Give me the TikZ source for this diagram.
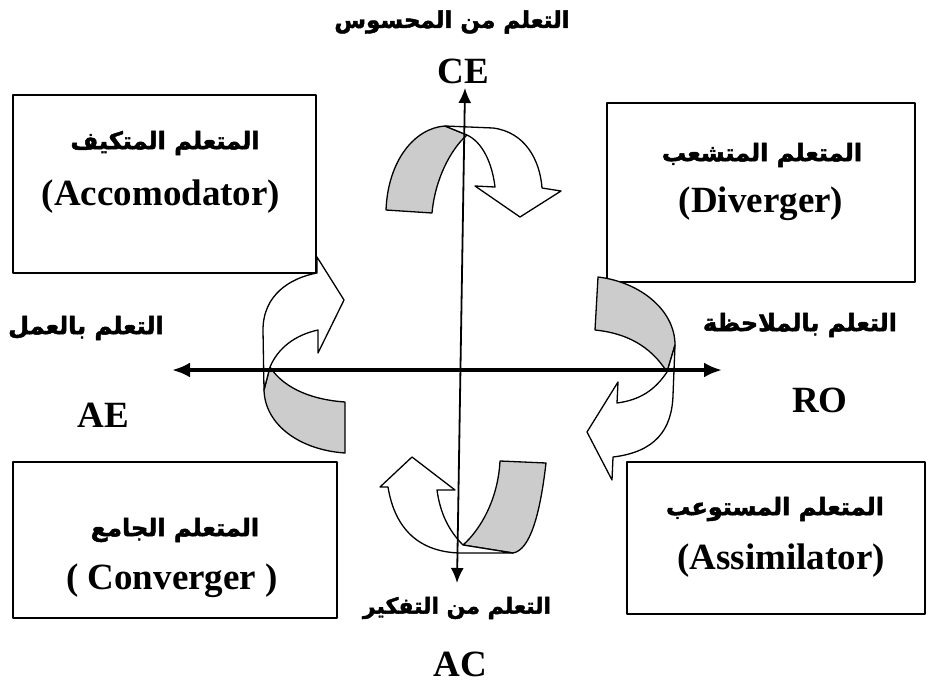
\documentclass[tikz,border=0pt]{standalone}
\usepackage{fontspec}
\setmainfont{Liberation Serif}
\newfontfamily\arabicfont[Script=Arabic,BoldFeatures={FakeBold=2}]{DejaVu Sans}
\TeXXeTstate=1
\usetikzlibrary{arrows.meta}
\definecolor{ribbongray}{RGB}{204,204,204}
\newcommand{\artext}[1]{{\arabicfont\bfseries\beginR #1\endR}}

\begin{document}
\begin{tikzpicture}[x=1pt,y=-1pt,>=Latex,line join=round,
  stylebox/.style={draw,line width=1.3pt,inner sep=0pt},
  latin/.style={font=\fontsize{37}{42}\selectfont\bfseries,inner sep=0pt},
  arabic/.style={font=\fontsize{24}{30}\selectfont,inner sep=0pt},
  ribbon/.style={draw,line width=1.3pt,fill=white},
  ribbonback/.style={draw,line width=1.3pt,fill=ribbongray}]
\useasboundingbox (0,0) rectangle (928,693);
% learner boxes
\node[stylebox,minimum width=303pt,minimum height=178pt] (accom) at (164.5,184) {};
\node[stylebox,minimum width=308pt,minimum height=179pt] (diverg) at (761,192.5) {};
\node[stylebox,minimum width=298pt,minimum height=152pt] (assim) at (776,538) {};
\node[stylebox,minimum width=324pt,minimum height=156pt] (conv) at (175,540) {};
% turning ribbons: top
\draw[ribbonback] (386,210) .. controls (388,160) and (415,128) .. (445,126) -- (467,135)
  .. controls (450,150) and (435,180) .. (432,213) -- cycle;
\draw[ribbon] (445,126) -- (493,128) .. controls (525,132) and (540,160) .. (542,188)
  -- (561,191) -- (520,217) -- (475,186) -- (495,187)
  .. controls (492,162) and (482,142) .. (467,135) -- cycle;
% left
\draw[ribbonback] (270,367) .. controls (285,390) and (315,400) .. (345,402) -- (345,453)
  .. controls (300,450) and (265,425) .. (264,390) -- cycle;
\draw[ribbon] (264,390) -- (263,330) .. controls (263,295) and (290,278) .. (317,273)
  -- (317,257) -- (344,300) -- (318,353) -- (318,330)
  .. controls (295,335) and (278,348) .. (270,367) -- cycle;
% right
\draw[ribbonback] (598,277) .. controls (640,282) and (675,310) .. (675,345) -- (667,372)
  .. controls (650,345) and (625,333) .. (595,330) -- cycle;
\draw[ribbon] (667,372) .. controls (655,390) and (640,400) .. (617,403) -- (618,382)
  -- (587,432) -- (612,480) -- (613,457) .. controls (655,452) and (672,430) .. (673,395)
  -- (675,345) -- cycle;
% bottom
\draw[ribbonback] (500,461) -- (546,463) .. controls (540,515) and (530,550) .. (513,553)
  -- (463,545) .. controls (480,530) and (498,500) .. (500,461) -- cycle;
\draw[ribbon] (437,490) -- (455,490) -- (412,457) -- (380,487) -- (388,487)
  .. controls (395,530) and (420,552) .. (460,553) -- (513,553) -- (463,545)
  .. controls (448,530) and (440,512) .. (437,490) -- cycle;
% axes
\coordinate (aeend) at (172,370);
\coordinate (roend) at (722,370);
\coordinate (ceend) at (465,88);
\coordinate (acend) at (457,583);
\draw[line width=3.5pt,{Latex[length=18pt,width=15pt]}-{Latex[length=18pt,width=15pt]}] (aeend) -- (roend);
\draw[line width=1.8pt,{Latex[length=15pt,width=13pt]}-{Latex[length=15pt,width=13pt]}] (acend) -- (ceend);
% axis labels
\node[arabic,font=\fontsize{23}{28}\selectfont] (cetxt) at (452,22) {\artext{التعلم من المحسوس}};
\node[latin] (ce) at (463,71) {CE};
\node[arabic] (aetxt) at (86,328) {\artext{التعلم بالعمل}};
\node[latin] (ae) at (103,415) {AE};
\node[arabic] (rotxt) at (800,325) {\artext{التعلم بالملاحظة}};
\node[latin] (ro) at (820,400) {RO};
\node[arabic,font=\fontsize{22}{28}\selectfont] (actxt) at (457,608) {\artext{التعلم من التفكير}};
\node[latin] (ac) at (460,664) {AC};
% box labels
\node[arabic] (accomar) at (165,143) {\artext{المتعلم المتكيف}};
\node[latin] (accomen) at (161,197) {(Accomodator)};
\node[arabic] (divergar) at (762,155) {\artext{المتعلم المتشعب}};
\node[latin] (divergen) at (761,204) {(Diverger)};
\node[arabic] (assimar) at (775,509) {\artext{المتعلم المستوعب}};
\node[latin] (assimen) at (781,561) {(Assimilator)};
\node[arabic] (convar) at (175,530) {\artext{المتعلم الجامع}};
\node[latin] (conven) at (172,581) {( Converger )};
\end{tikzpicture}
\end{document}
